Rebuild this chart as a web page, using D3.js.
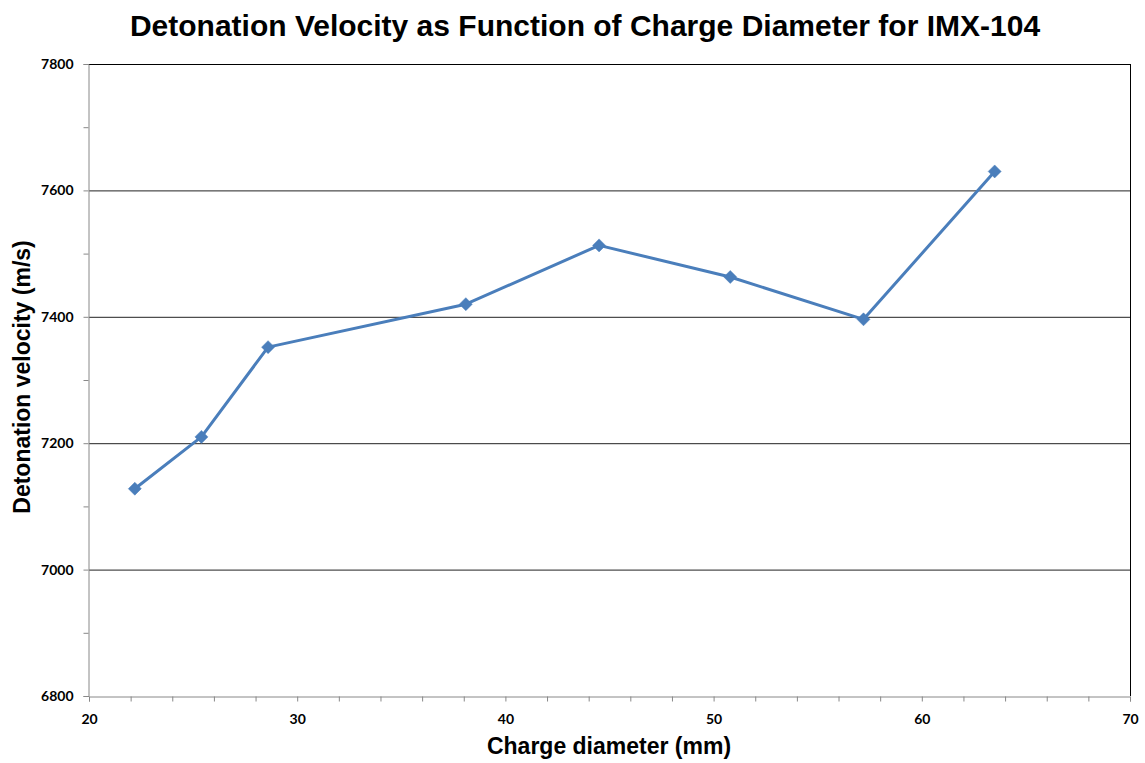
<!DOCTYPE html>
<html>
<head>
<meta charset="utf-8">
<script src="https://cdn.jsdelivr.net/npm/d3@7"></script>
<style>
  html, body { margin: 0; padding: 0; background: #fff; }
  svg { display: block; }
</style>
</head>
<body>
<svg id="chart" width="1145" height="763"></svg>
<script>
// Charge diameter (mm) and measured detonation velocity (m/s)
const diameters = [22.2, 25.4, 28.6, 38.1, 44.5, 50.8, 57.2, 63.5];
const velocities = [7128, 7210, 7352, 7420, 7513, 7463, 7396, 7630];

const xTicks = [20, 30, 40, 50, 60, 70];
const yTicks = [6800, 7000, 7200, 7400, 7600, 7800];

const titleText = "Detonation Velocity as Function of Charge Diameter for IMX-104";
const xTitle = "Charge diameter (mm)";
const yTitle = "Detonation velocity (m/s)";

const plot = { left: 89, right: 1130, top: 64, bottom: 696 };

const svg = d3.select("#chart");

const x = d3.scaleLinear().domain([20, 70]).range([plot.left, plot.right]);
const y = d3.scaleLinear().domain([6800, 7800]).range([plot.bottom, plot.top]);

// Horizontal gridlines at major ticks
svg.append("g")
  .selectAll("line")
  .data(yTicks.filter(v => v > 6800))
  .join("line")
  .attr("x1", plot.left).attr("x2", plot.right)
  .attr("y1", d => y(d) + 0.5).attr("y2", d => y(d) + 0.5)
  .attr("stroke", d => d === 7800 ? "#000" : "#222")
  .attr("stroke-width", 1);

// Right border of plot area
svg.append("line")
  .attr("x1", plot.right + 0.5).attr("x2", plot.right + 0.5)
  .attr("y1", plot.top).attr("y2", plot.bottom)
  .attr("stroke", "#000");

const tickFont = "Lato, 'Open Sans', Arial, sans-serif";

// X axis with minor ticks every 2 mm
const xAxis = d3.axisBottom(x)
  .tickValues(d3.range(20, 70.01, 2))
  .tickSize(5)
  .tickFormat(d => xTicks.includes(d) ? d : "");
const gx = svg.append("g")
  .attr("transform", `translate(0,${plot.bottom + 0.5})`)
  .call(xAxis);
gx.select(".domain").attr("stroke", "#888");
gx.selectAll(".tick line").attr("stroke", "#888");
gx.selectAll(".tick text")
  .attr("dy", "1.4em")
  .attr("fill", "#000")
  .style("font-family", tickFont)
  .style("font-weight", "bold")
  .style("font-size", "14px");

// Y axis with minor ticks every 100 m/s
const yAxis = d3.axisLeft(y)
  .tickValues(d3.range(6800, 7800.01, 100))
  .tickSize(5)
  .tickFormat(d => yTicks.includes(d) ? d : "");
const gy = svg.append("g")
  .attr("transform", `translate(${plot.left - 0.5},0)`)
  .call(yAxis);
gy.select(".domain").attr("stroke", "#888");
gy.selectAll(".tick line").attr("stroke", "#888");
gy.selectAll(".tick text")
  .attr("x", -15)
  .attr("fill", "#000")
  .style("font-family", tickFont)
  .style("font-weight", "bold")
  .style("font-size", "14px");

// Data line
const pts = diameters.map((d, i) => [d, velocities[i]]);
svg.append("path")
  .datum(pts)
  .attr("fill", "none")
  .attr("stroke", "#4a7ebb")
  .attr("stroke-width", 3)
  .attr("stroke-linejoin", "round")
  .attr("d", d3.line().x(d => x(d[0])).y(d => y(d[1])));

// Diamond markers
svg.append("g")
  .selectAll("path")
  .data(pts)
  .join("path")
  .attr("transform", d => `translate(${x(d[0])},${y(d[1])})`)
  .attr("d", "M0,-6.5L6.5,0L0,6.5L-6.5,0Z")
  .attr("fill", "#4a7ebb")
  .attr("stroke", "#4a7ebb")
  .attr("stroke-width", 0.5);

const titleFont = "'Liberation Sans', Arial, sans-serif";

// Chart title
svg.append("text")
  .attr("x", 585).attr("y", 36)
  .attr("text-anchor", "middle")
  .style("font-family", titleFont)
  .style("font-weight", "bold")
  .style("font-size", "30px")
  .text(titleText);

// Axis titles
svg.append("text")
  .attr("x", 609).attr("y", 754)
  .attr("text-anchor", "middle")
  .style("font-family", titleFont)
  .style("font-weight", "bold")
  .style("font-size", "23px")
  .text(xTitle);

svg.append("text")
  .attr("transform", "translate(30,377) rotate(-90)")
  .attr("text-anchor", "middle")
  .style("font-family", titleFont)
  .style("font-weight", "bold")
  .style("font-size", "23px")
  .text(yTitle);
</script>
</body>
</html>
